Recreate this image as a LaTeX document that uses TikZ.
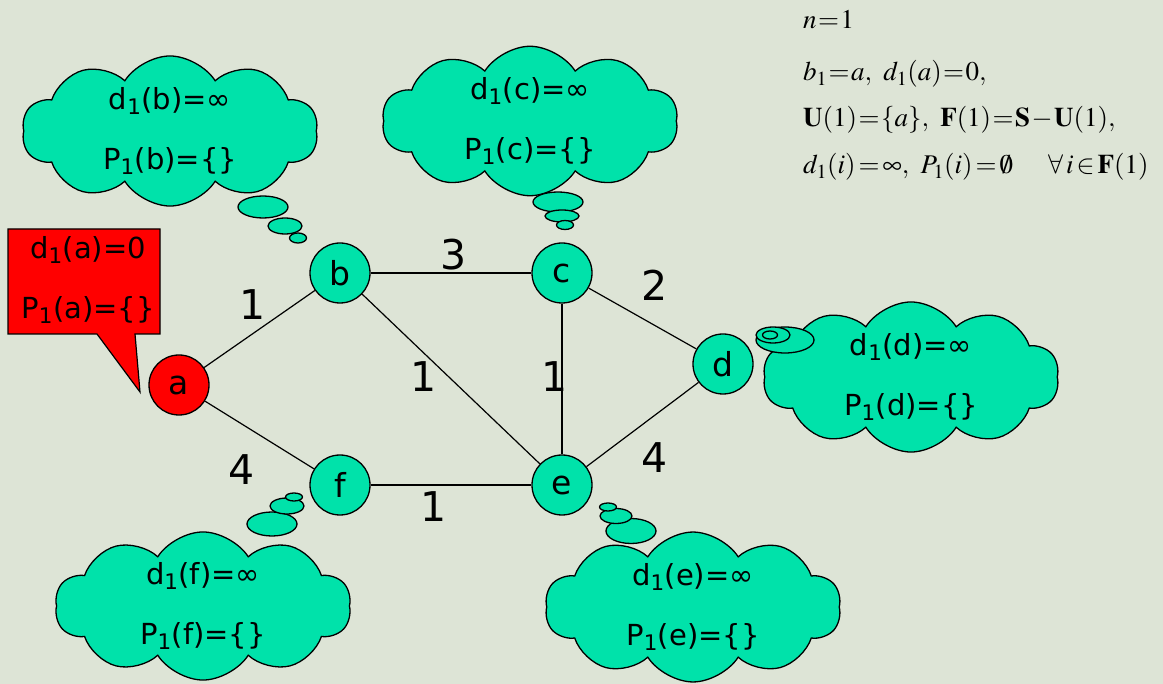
\documentclass[tikz,border=0pt]{standalone}
\usepackage{mathptmx}
\usepackage[no-math]{fontspec}
\newfontfamily\tahoma{DejaVu Sans}
\usetikzlibrary{shapes.symbols}
\definecolor{bgcol}{RGB}{221,228,214}
\definecolor{mint}{RGB}{0,226,170}
\newcommand\tightmath{\thickmuskip=1mu\relax\medmuskip=1mu\relax}

\begin{document}
\begin{tikzpicture}[x=1pt,y=-1pt,
  vertex/.style={circle,draw,fill=mint,line width=1.3pt,minimum size=60pt,inner sep=0pt,font=\tahoma\fontsize{33}{36}\selectfont},
  think/.style={cloud,cloud puffs=10,cloud puff arc=115,cloud ignores aspect,draw,fill=mint,line width=1.3pt,minimum width=296pt,minimum height=148pt,inner sep=0pt,align=center,font=\tahoma\fontsize{29}{60}\selectfont},
  bubble/.style={draw,fill=mint,line width=1.3pt},
  weight/.style={font=\tahoma\fontsize{41}{48}\selectfont},
  formula/.style={anchor=base west,inner sep=0pt,font=\fontsize{27}{32}\selectfont}]

\fill[bgcol] (0,0) rectangle (1163,684);
\useasboundingbox (0,0) rectangle (1163,684);

\node[vertex,fill=red] (a) at (179,385) {a};
\node[vertex] (b) at (340,273) {b};
\node[vertex] (c) at (562,273) {c};
\node[vertex] (d) at (723,364) {d};
\node[vertex] (e) at (562,485) {e};
\node[vertex] (f) at (340,485) {f};

\draw[line width=1.2pt] (a) -- (b);
\draw[line width=1.2pt] (a) -- (f);
\draw[line width=1.2pt] (b) -- (c);
\draw[line width=1.2pt] (b) -- (e);
\draw[line width=1.2pt] (c) -- (e);
\draw[line width=1.2pt] (c) -- (d);
\draw[line width=1.2pt] (d) -- (e);
\draw[line width=1.2pt] (f) -- (e);

\node[weight] (wab) at (253,305) {1};
\node[weight] (waf) at (242,470) {4};
\node[weight] (wbc) at (454,255) {3};
\node[weight] (wbe) at (424,377) {1};
\node[weight] (wce) at (555,377) {1};
\node[weight] (wcd) at (655,285) {2};
\node[weight] (wde) at (655,458) {4};
\node[weight] (wfe) at (434,507) {1};

\filldraw[fill=red,line width=1.2pt] (8,229) -- (160,229) -- (160,334) -- (135,334) -- (140,392) -- (97,334) -- (8,334) -- cycle;
\node[align=center,font=\tahoma\fontsize{29}{60}\selectfont] (la) at (88,280) {d\textsubscript{1}(a)=0\\P\textsubscript{1}(a)=\{\}};

\node[think] (lb) at (170,131) {d\textsubscript{1}(b)=∞\\P\textsubscript{1}(b)=\{\}};
\node[think] (lc) at (530,121) {d\textsubscript{1}(c)=∞\\P\textsubscript{1}(c)=\{\}};
\node[think] (ld) at (911,377) {d\textsubscript{1}(d)=∞\\P\textsubscript{1}(d)=\{\}};
\node[think] (le) at (693,607) {d\textsubscript{1}(e)=∞\\P\textsubscript{1}(e)=\{\}};
\node[think] (lf) at (203,606) {d\textsubscript{1}(f)=∞\\P\textsubscript{1}(f)=\{\}};

\filldraw[bubble] (263,207) ellipse (25 and 11);
\filldraw[bubble] (285,226) ellipse (17 and 8);
\filldraw[bubble] (298,238) ellipse (8.5 and 5);

\filldraw[bubble] (558,202) ellipse (25 and 10);
\filldraw[bubble] (562,216) ellipse (17 and 6);
\filldraw[bubble] (565,225) ellipse (8.5 and 4.5);

\filldraw[bubble] (785,340) ellipse (29 and 13);
\filldraw[bubble] (773,335) ellipse (17 and 8);
\filldraw[bubble] (770,335) ellipse (7.5 and 4);

\filldraw[bubble] (631,531) ellipse (25 and 12.5);
\filldraw[bubble] (616,516) ellipse (16 and 7.5);
\filldraw[bubble] (608,507) ellipse (8.5 and 4);

\filldraw[bubble] (272,524) ellipse (25 and 12);
\filldraw[bubble] (287,506) ellipse (17 and 8);
\filldraw[bubble] (294,497) ellipse (8.5 and 4);

\node[formula] (m1) at (803,29) {$\tightmath n=1$};
\node[formula] (m2) at (803,81) {$\tightmath b_1=a,\ d_1(a)=0,$};
\node[formula] (m3) at (803,127) {$\tightmath \mathbf{U}(1)=\{a\},\ \mathbf{F}(1)=\mathbf{S}-\mathbf{U}(1),$};
\node[formula] (m4) at (803,174) {$\tightmath d_1(i)\,{=}\,\infty,\ P_1(i)\,{=}\,\emptyset\quad\ \forall\, i\,{\in}\,\mathbf{F}(1)$};
\end{tikzpicture}
\end{document}
